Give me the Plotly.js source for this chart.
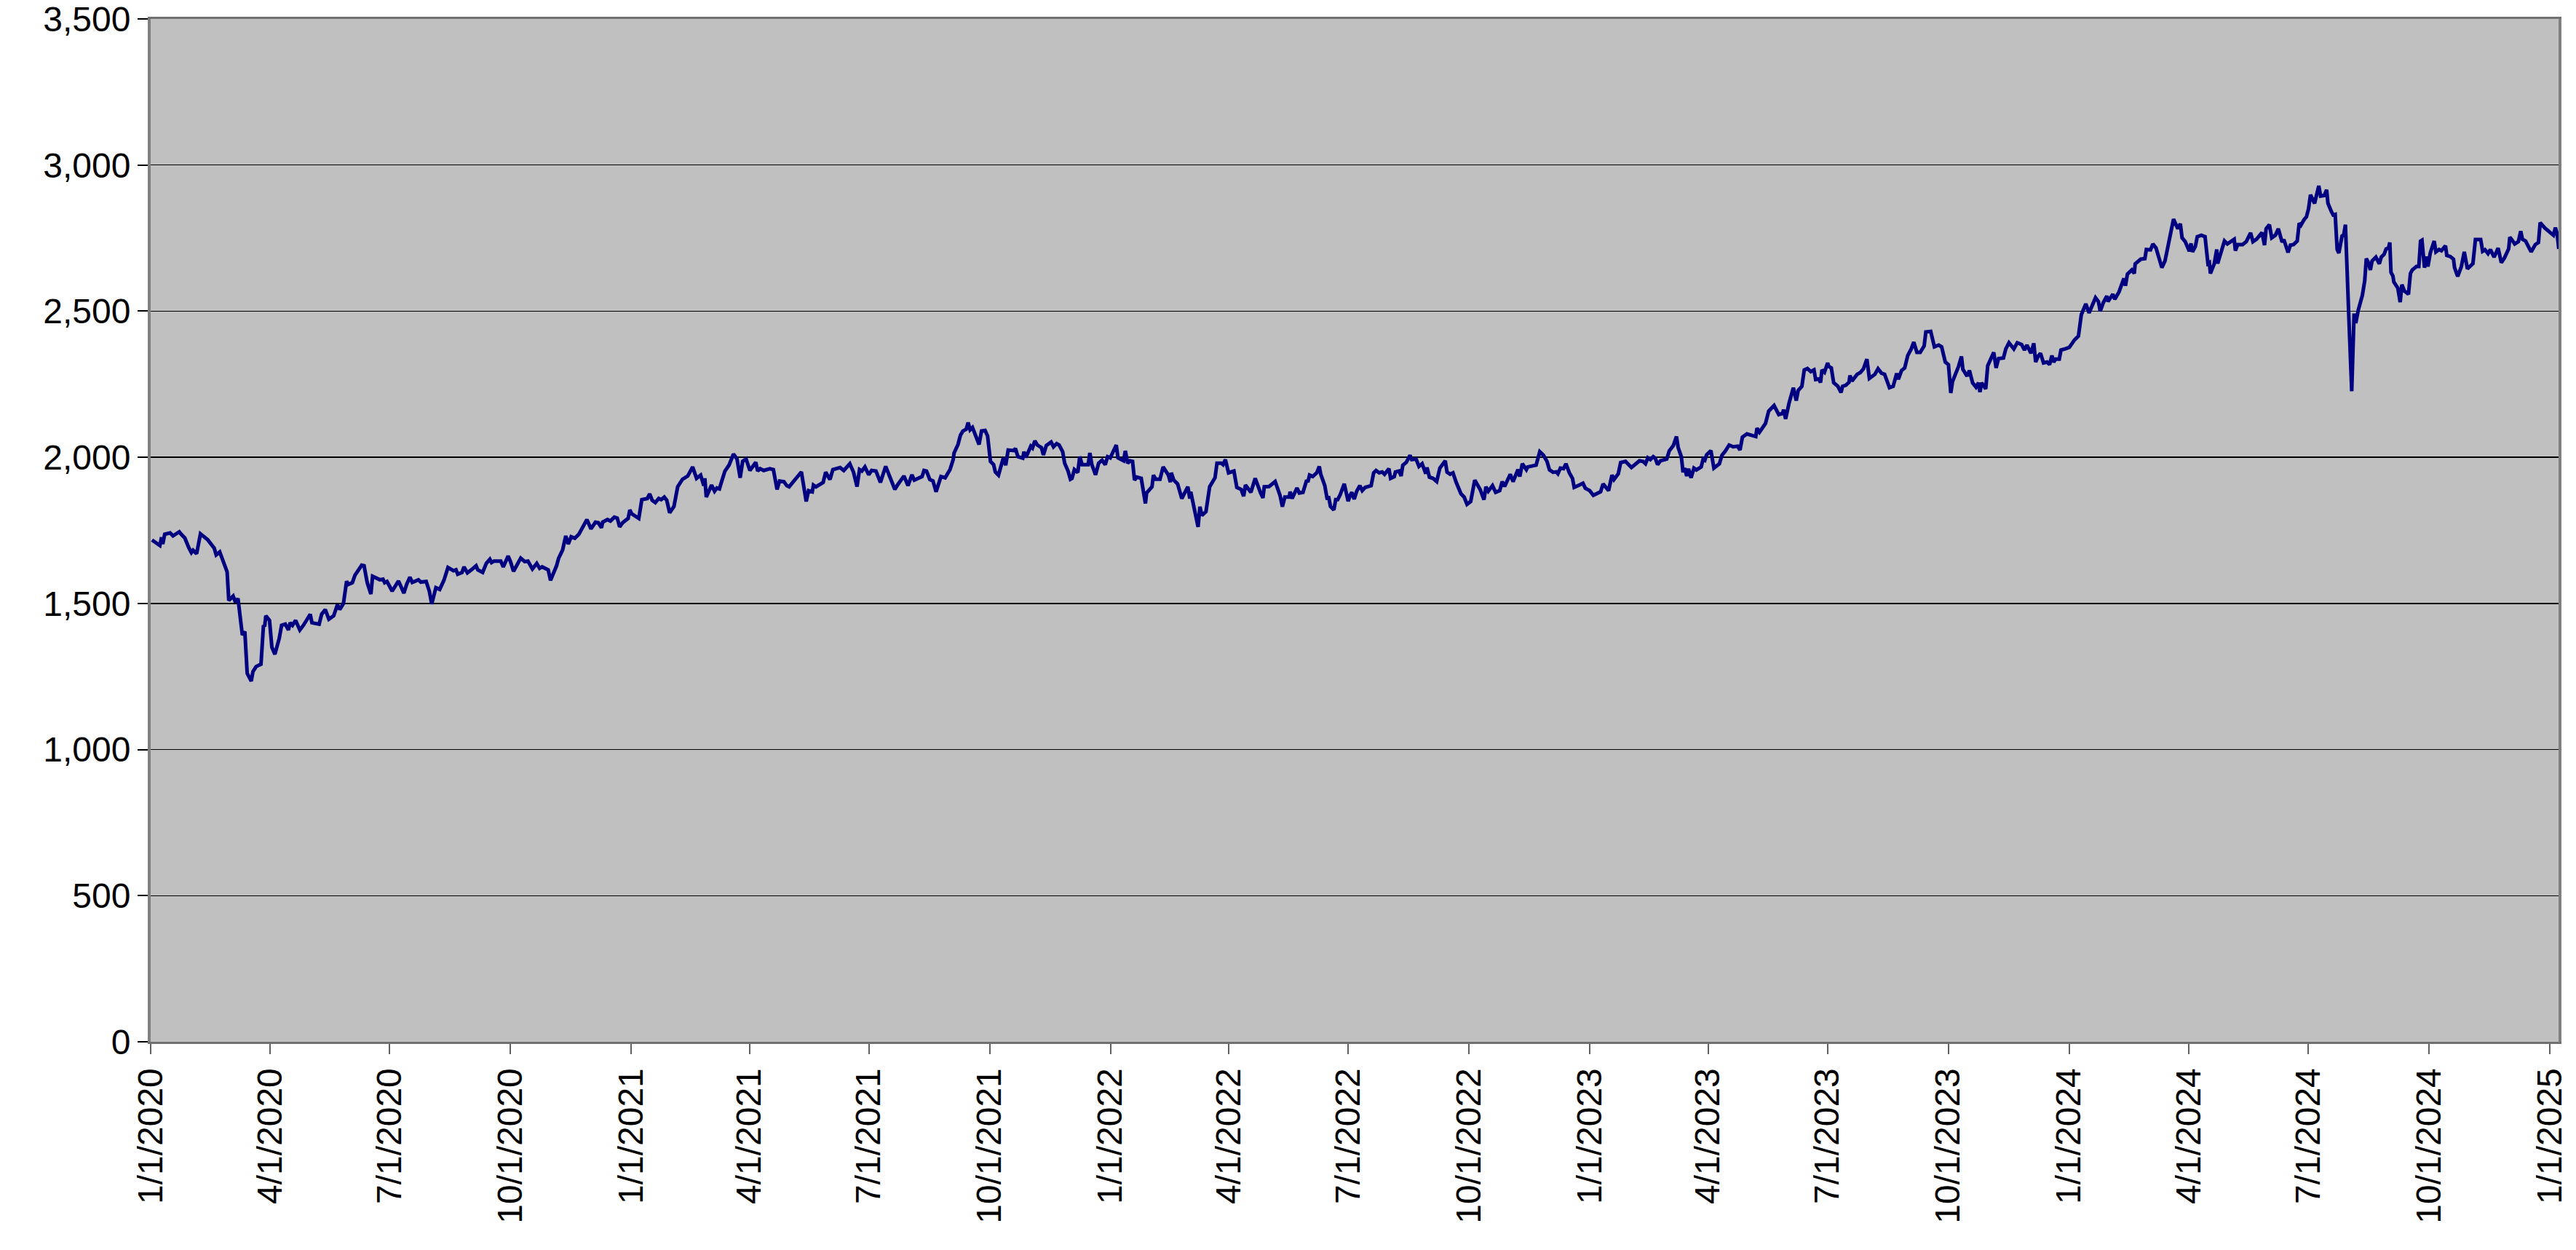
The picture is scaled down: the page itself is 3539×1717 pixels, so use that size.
<!DOCTYPE html>
<html>
<head>
<meta charset="utf-8">
<script src="https://cdn.plot.ly/plotly-3.0.1.min.js"></script>
<style>
  html, body { margin: 0; padding: 0; background: #fff; }
  #graphDiv { width: 3539px; height: 1717px; }
</style>
</head>
<body>
<div id="graphDiv"></div>
<script>
// [days since 1/1/2020, index value]
const pts2020 = [[1,1717],[7,1698],[8.3,1726],[9.2,1703],[10.7,1737],[14.8,1741],[17,1731],[21.8,1745],[23,1738],[26,1724],[29,1691],[31,1674],[32.3,1682],[35,1670],[37.9,1738],[43.4,1718],[48.4,1689],[49.9,1666],[52.6,1676],[58.2,1608],[59.5,1510],[62.8,1525],[64.6,1504],[66.5,1517],[69.8,1392],[71.7,1404],[73.5,1261],[76.6,1234],[77.9,1267],[80.3,1284],[84,1292],[85.9,1425],[86.8,1421],[87.7,1458],[90.5,1442],[92.3,1350],[94.6,1326],[97.9,1380],[99.7,1425],[102.5,1429],[104.9,1409],[106.2,1434],[108,1425],[110.4,1442],[113.6,1409],[116.3,1425],[121.5,1463],[122.8,1434],[128.3,1429],[130.2,1463],[133,1479],[135.7,1446],[139.4,1458],[142.2,1496],[144,1479],[146.8,1500],[149.2,1576],[150.5,1565],[153.6,1571],[155.5,1596],[160.7,1631],[162.5,1629],[164.9,1571],[167.7,1532],[169,1593],[174.5,1581],[176.9,1583],[178.2,1571],[180,1575],
  [181.7,1562],[183.9,1542],[188.7,1577],[192.8,1535],[195,1566],[197.4,1590],[199.2,1572],[203.9,1581],[205.7,1573],[209.8,1575],[212.2,1542],[214,1498],[217.2,1554],[220.1,1548],[223.3,1579],[226.4,1623],[230.6,1612],[232.5,1615],[233.8,1600],[237.1,1606],[238.6,1625],[241.2,1605],[244.5,1616],[247.8,1629],[249.1,1615],[252.8,1606],[255.6,1637],[258.3,1651],[259.6,1640],[261.5,1645],[266.6,1645],[268.5,1625],[272.2,1662],[274,1643],[276.3,1610],[281.8,1655],[284.8,1643],[287.3,1645],[290.7,1618],[292.5,1629],[294,1637],[296.2,1620],[298.1,1625],[302.7,1615],[304.5,1579],[309.1,1629],[310.6,1654],[313.7,1683],[316.1,1731],[318,1703],[320.2,1728],[323,1723],[326.1,1737],[332.2,1787],[335.3,1755],[338.7,1778],[340.9,1776],[343.3,1759],[344.2,1778],[347.9,1787],[350.1,1782],[353.1,1795],[355.3,1792],[357.1,1762],[359.4,1776],[363.6,1791],[364.9,1820]];

const pts2021 = [[366.2,1807],[371.7,1791],[374,1855],[378.2,1859],[380,1875],[381.9,1853],[384.3,1845],[386.9,1859],[388.7,1855],[391.1,1864],[393,1853],[395.2,1810],[398.5,1832],[401.3,1899],[405,1925],[409,1936],[412.7,1967],[415.7,1928],[418.8,1939],[421.2,1903],[422,1928],[423.1,1864],[427.1,1905],[429.4,1884],[431.2,1895],[433.1,1892],[434.9,1919],[437.3,1953],[440.4,1973],[443.8,2011],[446.5,1994],[448.9,1930],[450.8,1986],[453.4,1994],[456.3,1955],[460.8,1983],[462.2,1953],[464.1,1961],[466.8,1955],[471.5,1961],[474.2,1958],[477,1890],[478.9,1919],[482.2,1917],[484.4,1903],[486.2,1899],[495.5,1950],[499.2,1849],[501,1886],[503.8,1882],[504.7,1905],[506.6,1899],[512.1,1914],[514,1949],[517.3,1924],[519.5,1958],[525,1965],[527.8,1955],[532.4,1978],[535.2,1949],[537.9,1900],[539.8,1958],[541.6,1953],[543.9,1967],
  [546.8,1940],[549,1955],[552.3,1953],[555.7,1914],[559.7,1969],[562.5,1936],[566.7,1890],[569,1907],[573.6,1936],[576.7,1903],[579.7,1940],[581.5,1922],[587.4,1934],[588.9,1955],[590.8,1953],[593.3,1924],[595.7,1919],[598.1,1882],[601.8,1934],[605,1930],[608.7,1958],[611.1,1992],[611.8,2015],[614.8,2044],[616.6,2075],[618.5,2090],[621,2096],[622.5,2119],[624,2094],[625.8,2102],[627.7,2081],[630.8,2044],[632.7,2090],[635.4,2092],[637.3,2073],[639.5,1986],[641.9,1975],[643.2,1950],[645.6,1939],[649.3,1998],[651.1,1973],[653,2025],[657.2,2023],[658.5,2030],[660.4,2002],[664.1,1997],[665,2019],[666.5,2000],[670.2,2038],[671.5,2032],[673.3,2056],[675.2,2042],[678.3,2033],[679.8,2008],[682,2040],[685.7,2052],[687.5,2036],[689.9,2047],[691.8,2042],[694.5,2019],[696,1980],[698.6,1953],[700.4,1925],[701.6,1928],[703.4,1958],[706,1948],[707.5,2002],[709.3,1975],[713.9,1975],[715.2,2015],[716.7,1975],[719.5,1940],[721.9,1980],[724.5,1990],[726.9,1975],[728.7,2002]];

const pts2022 = [[730.7,1998],[735.3,2042],[736.6,1998],[740.9,1988],[742.2,2022],[744,1980],[745.8,1988],[747.7,1986],[749.2,1922],[751,1932],[754.3,1928],[755.6,1895],[757.5,1842],[758.4,1878],[762.5,1899],[763.6,1939],[765.4,1925],[768.6,1925],[771,1967],[775,1939],[776.5,1915],[777.2,1947],[779.1,1922],[782,1909],[785.2,1859],[789.8,1899],[791.3,1859],[792,1882],[793.9,1836],[797.6,1762],[799,1831],[800.5,1801],[803.6,1814],[806.4,1899],[810.5,1930],[812,1980],[815.3,1980],[816.6,1975],[818.4,1992],[820.8,1947],[824.9,1953],[827.1,1897],[830.4,1890],[832.3,1867],[833.7,1905],[837.8,1880],[841.1,1928],[843.7,1890],[845.2,1878],[847,1861],[848,1899],[851.7,1900],[856.3,1917],[860,1870],[861.8,1831],[863.7,1864],[867,1864],[867.7,1882],[869.2,1859],[872.9,1895],[874.7,1878],[877.5,1880],[880.3,1922],[881.2,1915],[882.5,1939],[884.9,1934],[888,1947],[889.9,1969],[891,1942],[894.1,1903],[896,1855],[896.9,1867],[898.4,1832],[901,1820],[902.4,1855],[903.9,1855],[905.8,1872],[908.9,1909],
  [911.9,1850],[913.4,1870],[914.7,1880],[916.5,1857],[918.4,1884],[920.8,1903],[922.6,1886],[924.8,1897],[929.4,1903],[931.3,1947],[933.1,1955],[935.5,1947],[937.8,1950],[939.6,1942],[941.1,1953],[942.9,1961],[944.2,1928],[947,1934],[947.9,1950],[950.7,1953],[952.2,1936],[953.5,1973],[956.2,1983],[959,2007],[960.3,1992],[963.6,1994],[965.8,1969],[968.2,1978],[971,1944],[971.9,1965],[973.8,1932],[976.5,1928],[979.3,1917],[981.7,1963],[985.8,1988],[987.2,1949],[989.5,1942],[991.7,1947],[994.1,1915],[997.8,1875],[1000.2,1864],[1002.4,1839],[1005.2,1849],[1008.3,1922],[1012.5,1889],[1015.3,1855],[1016.8,1899],[1018.6,1884],[1021.8,1903],[1024.2,1880],[1027.3,1886],[1029.2,1917],[1031,1900],[1035.3,1942],[1037.5,1917],[1041.2,1958],[1042.6,1934],[1044.5,1978],[1047.6,1958],[1048.6,1967],[1055,1973],[1057.8,2019],[1060.6,2007],[1063.3,1986],[1065.2,1957],[1067.9,1949],[1070.4,1950],[1071.6,1944],[1073.5,1963],[1075.9,1961],[1077.7,1978],[1080.3,1947],[1082.7,1928],[1084,1897],[1087,1903],[1090.7,1911],[1092.5,1894]];

const pts2023 = [[1095.8,1886],[1098.6,1870],[1100.4,1875],[1104.1,1882],[1106,1909],[1110.2,1886],[1112.8,1939],[1114.3,1924],[1117.6,1944],[1119.4,1982],[1123.1,1986],[1127.6,1965],[1133.7,1988],[1136.4,1986],[1138.3,1978],[1140.1,1998],[1142,1992],[1144.2,2002],[1145.7,1997],[1147.5,1975],[1149.7,1988],[1154.5,1994],[1156.4,2022],[1159.5,2040],[1161.9,2071],[1163.2,2033],[1165.6,2002],[1166.9,1949],[1168.2,1963],[1169.7,1936],[1171.1,1961],[1173,1930],[1175.2,1963],[1177.1,1957],[1180.7,1967],[1182.2,1994],[1183.5,1990],[1184.8,2008],[1188.1,2023],[1190.4,1963],[1194.6,1978],[1196.5,2007],[1199.2,2022],[1202,2042],[1205.1,2036],[1208.4,2038],[1210.3,2025],[1212.1,2069],[1215.5,2080],[1222.3,2071],[1223.2,2100],[1225.1,2086],[1229.7,2116],[1232.1,2158],[1236.2,2177],[1239.8,2146],[1242.6,2150],[1243.5,2163],[1245,2131],[1247.6,2185],[1250.9,2238],[1253.1,2194],[1254.6,2229],[1257.4,2243],[1259.2,2299],[1261.6,2304],[1264.2,2293],[1266.6,2299],[1267.9,2266],[1270.3,2268],[1271.6,2256],[1272.7,2299],[1274.6,2291],
  [1277,2323],[1277.9,2311],[1279.8,2306],[1281.6,2255],[1284.8,2243],[1287.2,2222],[1288.4,2243],[1290.9,2247],[1293.3,2257],[1294,2280],[1295.5,2261],[1299.5,2284],[1301.9,2290],[1304.3,2303],[1306.9,2336],[1308.8,2270],[1313,2284],[1315.4,2303],[1318,2288],[1320.4,2284],[1324.1,2238],[1326.9,2243],[1329.6,2287],[1330.9,2267],[1333.3,2297],[1335.7,2306],[1338,2348],[1340.7,2371],[1342.6,2394],[1345,2359],[1347.5,2359],[1350.5,2381],[1351.8,2429],[1355.5,2431],[1358.3,2378],[1361.6,2384],[1363.8,2378],[1366.6,2326],[1369,2317],[1370.8,2220],[1372.1,2259],[1376.7,2311],[1378.9,2345],[1380,2301],[1383.2,2278],[1385,2297],[1387.4,2255],[1390,2240],[1391.9,2255],[1393,2223],[1394.3,2255],[1397.4,2234],[1398.9,2313],[1403.5,2359],[1405.3,2306],[1407.2,2338],[1410.9,2340],[1412.7,2371],[1415.1,2392],[1418.8,2371],[1421.4,2392],[1424.7,2386],[1426.9,2367],[1428.8,2384],[1431.8,2356],[1434,2390],[1435.4,2326],[1437.3,2346],[1439.1,2356],[1441.4,2323],[1444.1,2326],[1446,2317],[1447.8,2348],[1449.1,2326],[1450.6,2336],[1453.4,2336],[1454.7,2367],[1458,2371]];

const pts2024 = [[1461,2376],[1463.2,2390],[1464.7,2400],[1468,2415],[1470.2,2488],[1473.6,2525],[1476.1,2494],[1481,2546],[1483.2,2533],[1484.6,2500],[1486.9,2529],[1489.6,2552],[1490.5,2533],[1494.2,2558],[1495.7,2541],[1498.9,2566],[1502.6,2612],[1503.8,2587],[1505.3,2627],[1508.6,2641],[1510.5,2629],[1511.2,2662],[1515.5,2678],[1518.6,2680],[1519.7,2711],[1522.9,2710],[1524.7,2730],[1527.1,2716],[1531.5,2649],[1533.9,2672],[1536.3,2724],[1540.4,2815],[1543.7,2782],[1545.6,2799],[1546.9,2751],[1549.3,2738],[1552.4,2705],[1553.7,2732],[1554.8,2703],[1557,2721],[1558.5,2755],[1561.6,2760],[1564.4,2755],[1566.6,2663],[1567.7,2666],[1568.5,2629],[1571.4,2662],[1573.3,2711],[1574,2663],[1579.2,2740],[1581.4,2730],[1586.6,2746],[1587.5,2707],[1589.3,2728],[1593,2728],[1595.8,2738],[1599.1,2768],[1600.9,2738],[1603.6,2746],[1607.8,2769],[1609.7,2726],[1610.9,2782],[1613.4,2796],[1615.2,2751],[1618,2760],[1620.2,2782],[1623.1,2736],[1624.4,2745],[1627.6,2701],[1629.4,2726],[1631.8,2728],[1634.6,2740],[1636.1,2801],[1637.4,2794],[1639.8,2813],[1641.6,2823],[1643.2,2850],
  [1644.7,2898],[1647.8,2869],[1651,2929],[1652.4,2894],[1655.2,2896],[1657,2915],[1658,2869],[1660.7,2840],[1662,2829],[1663.5,2831],[1665,2711],[1666.3,2699],[1668.7,2757],[1670,2761],[1671.3,2796],[1673.7,2504],[1676.1,2226],[1677.9,2492],[1679.2,2459],[1681.1,2504],[1684.2,2554],[1686,2604],[1687.2,2680],[1688.4,2670],[1690.3,2641],[1691.6,2672],[1694.5,2685],[1697.1,2662],[1698.6,2685],[1700.8,2695],[1702.3,2713],[1704.1,2716],[1705.1,2735],[1706,2633],[1707.5,2620],[1708.2,2600],[1711.2,2579],[1713,2531],[1714.3,2591],[1716.1,2570],[1719.3,2558],[1720.8,2629],[1722.2,2641],[1725.4,2653],[1727.2,2653],[1728.5,2740],[1729.6,2743],[1731.5,2649],[1733.3,2687],[1734.1,2653],[1735.9,2699],[1738.9,2740],[1740.2,2703],[1742.6,2711],[1744.4,2707],[1747.5,2724],[1748.5,2691],[1751.2,2687],[1753.6,2678],[1754.4,2649],[1756.8,2619],[1759.6,2653],[1761.8,2703],[1764.2,2645],[1768.4,2663],[1770.3,2745],[1774.3,2745],[1775.8,2705],[1777.6,2710],[1779.9,2697],[1781.7,2711],[1784.5,2685],[1787.6,2716],[1790,2666],[1792.4,2682],[1795.6,2713],[1796.5,2753],[1798.3,2743],[1800.2,2730],[1803,2738],[1804.8,2774],[1806.1,2746],[1808.5,2740],[1812.7,2703],[1815.9,2728],[1818.3,2735],[1819.6,2803],[1823.3,2784]];

const pts2025 = [[1829.7,2760],[1831.2,2786],[1832.5,2765],[1833.8,2713]];

const tickDates = ["2020-01-01","2020-04-01","2020-07-01","2020-10-01",
  "2021-01-01","2021-04-01","2021-07-01","2021-10-01",
  "2022-01-01","2022-04-01","2022-07-01","2022-10-01",
  "2023-01-01","2023-04-01","2023-07-01","2023-10-01",
  "2024-01-01","2024-04-01","2024-07-01","2024-10-01","2025-01-01"];
const tickLabels = ["1/1/2020","4/1/2020","7/1/2020","10/1/2020",
  "1/1/2021","4/1/2021","7/1/2021","10/1/2021",
  "1/1/2022","4/1/2022","7/1/2022","10/1/2022",
  "1/1/2023","4/1/2023","7/1/2023","10/1/2023",
  "1/1/2024","4/1/2024","7/1/2024","10/1/2024","1/1/2025"];

const START = Date.UTC(2020, 0, 1);
function toDate(d) {
    return new Date(START + d * 86400000).toISOString().slice(0, 19).replace("T", " ");
}

const allPts = [].concat(pts2020, pts2021, pts2022, pts2023, pts2024, pts2025);

const trace = {
    x: allPts.map((p) => toDate(p[0])),
    y: allPts.map((p) => p[1]),
    mode: "lines",
    type: "scatter",
    line: {color: "#000080", width: 5},
    hoverinfo: "skip"
};

const layout = {
    width: 3539,
    height: 1717,
    margin: {l: 207, r: 24, t: 26, b: 286, pad: 0},
    paper_bgcolor: "#ffffff",
    plot_bgcolor: "#c0c0c0",
    font: {family: "Liberation Sans, Arial, sans-serif", size: 48, color: "#000"},
    showlegend: false,
    xaxis: {
        type: "date",
        range: ["2020-01-01", "2025-01-07 14:00"],
        tickmode: "array",
        tickvals: tickDates,
        ticktext: tickLabels,
        tickangle: -90,
        ticks: "outside",
        ticklen: 14,
        tickwidth: 2,
        tickcolor: "#606060",
        ticklabeloverflow: "allow",
        showgrid: false,
        zeroline: false,
        showline: true,
        linecolor: "#707070",
        linewidth: 3,
        mirror: true
    },
    yaxis: {
        range: [0, 3500],
        tick0: 0,
        dtick: 500,
        tickformat: ",d",
        ticks: "outside",
        ticklen: 14,
        tickwidth: 2,
        tickcolor: "#000",
        ticklabeloverflow: "allow",
        showgrid: true,
        gridcolor: "#000",
        gridwidth: 1.5,
        zeroline: false,
        showline: true,
        linecolor: "#808080",
        linewidth: 4,
        mirror: true
    }
};

Plotly.newPlot("graphDiv", [trace], layout, {displayModeBar: false, staticPlot: true});
</script>
</body>
</html>
